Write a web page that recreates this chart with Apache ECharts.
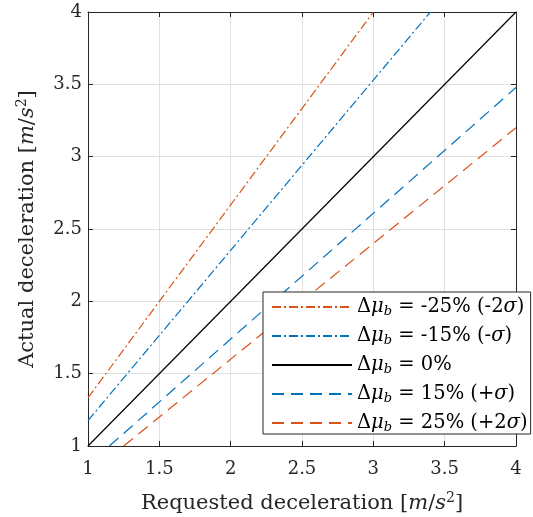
<!DOCTYPE html>
<html><head><meta charset="utf-8">
<script src="https://cdn.jsdelivr.net/npm/echarts@6/dist/echarts.min.js"></script>
<style>html,body{margin:0;padding:0;background:#fff}#c{width:533px;height:517px}</style>
</head><body><div id="c"></div>
<script>
const xTicks = [1, 1.5, 2, 2.5, 3, 3.5, 4];
const yTicks = [1, 1.5, 2, 2.5, 3, 3.5, 4];
const seriesNames = ['-25% (-2σ)', '-15% (-σ)', '0%', '15% (+σ)', '25% (+2σ)'];
const xM25 = [1, 3];      const yM25 = [1.333, 4];
const xM15 = [1, 3.4];    const yM15 = [1.176, 4];
const x0   = [1, 4];      const y0   = [1, 4];
const xP15 = [1.15, 4];   const yP15 = [1, 3.478];
const xP25 = [1.25, 4];   const yP25 = [1, 3.2];

const ORANGE = '#D95319', BLUE = '#0072BD', AX = '#262626';
const FONT = 'DejaVu Serif';
const zip = (xs, ys) => xs.map((x, i) => [x, ys[i]]);
const styles = [
  {color: ORANGE, type: [9, 3, 2, 3]},
  {color: BLUE, type: [9, 3, 2, 3]},
  {color: '#000000', type: 'solid'},
  {color: BLUE, type: [12, 7]},
  {color: ORANGE, type: [12, 7]}
];
const datas = [zip(xM25, yM25), zip(xM15, yM15), zip(x0, y0), zip(xP15, yP15), zip(xP25, yP25)];

const chart = echarts.init(document.getElementById('c'), null, {renderer: 'canvas'});
const baseAxis = {
  min: 1, max: 4, interval: 0.5,
  axisLine: {show: true, onZero: false, lineStyle: {color: AX, width: 1}},
  axisTick: {show: true, inside: true, length: 5, lineStyle: {color: AX}},
};
const lbl = {color: AX, fontFamily: FONT, fontSize: 18, formatter: v => String(v)};
const nameRich = {n: {fontFamily: FONT, fontSize: 21, color: AX},
  b: {fontFamily: FONT, fontSize: 21, color: AX},
  i: {fontFamily: FONT, fontSize: 21, color: AX, fontStyle: 'italic'},
  sup: {fontFamily: FONT, fontSize: 14, color: AX, verticalAlign: 'top', padding: [0,0,11,0]}};
chart.setOption({
  animation: false,
  grid: {left: 88, right: 17, top: 12, bottom: 71, containLabel: false, outerBoundsMode: 'none'},
  xAxis: [
    Object.assign({type: 'value', position: 'bottom',
      axisLabel: Object.assign({margin: 14}, lbl),
      splitLine: {show: true, lineStyle: {color: '#e0e0e0', width: 1}},
      name: '{n|Requested deceleration }{b|[}{i|m}{b|/}{i|s}{sup|2}{b|]}',
      nameLocation: 'middle', nameGap: 45,
      nameTextStyle: {fontFamily: FONT, fontSize: 21, color: AX, rich: nameRich}
    }, baseAxis),
    Object.assign({type: 'value', position: 'top', axisLabel: {show: false}, splitLine: {show: false}}, baseAxis)
  ],
  yAxis: [
    Object.assign({type: 'value', position: 'left',
      axisLabel: Object.assign({margin: 6}, lbl),
      splitLine: {show: true, lineStyle: {color: '#e0e0e0', width: 1}},
      name: '{n|Actual deceleration }{b|[}{i|m}{b|/}{i|s}{sup|2}{b|]}',
      nameLocation: 'middle', nameGap: 48, nameRotate: 90,
      nameTextStyle: {fontFamily: FONT, fontSize: 21, color: AX, rich: nameRich}
    }, baseAxis),
    Object.assign({type: 'value', position: 'right', axisLabel: {show: false}, splitLine: {show: false}}, baseAxis)
  ],
  legend: {
    orient: 'vertical', left: 263, top: 292,
    padding: [5, 3, 0, 8], itemGap: 8, itemWidth: 80, itemHeight: 14, itemTextGap: 6,
    backgroundColor: '#ffffff', borderColor: AX, borderWidth: 1,
    itemStyle: {opacity: 0},
    data: seriesNames,
    formatter: name => '{d|Δ}{mu|μ}{s|b}{t| = ' + name.replace('σ', '}{mu|σ}{t|') + '}',
    textStyle: {fontFamily: FONT, fontSize: 19.5, color: '#000',
      rich: {d: {fontFamily: FONT, fontSize: 19.5, color: '#000', lineHeight: 20},
             mu: {fontFamily: FONT, fontSize: 19.5, color: '#000', fontStyle: 'italic', lineHeight: 20},
             s: {fontFamily: FONT, fontSize: 13, color: '#000', fontStyle: 'italic', verticalAlign: 'bottom', padding: [9,0,0,0]},
             t: {fontFamily: FONT, fontSize: 19.5, color: '#000', lineHeight: 20}}}
  },
  series: seriesNames.map((n, i) => ({
    name: n, type: 'line', data: datas[i], showSymbol: false, symbol: 'none',
    lineStyle: {color: styles[i].color, width: 1.2, type: styles[i].type},
    itemStyle: {color: styles[i].color}, z: 3
  }))
});
</script></body></html>
